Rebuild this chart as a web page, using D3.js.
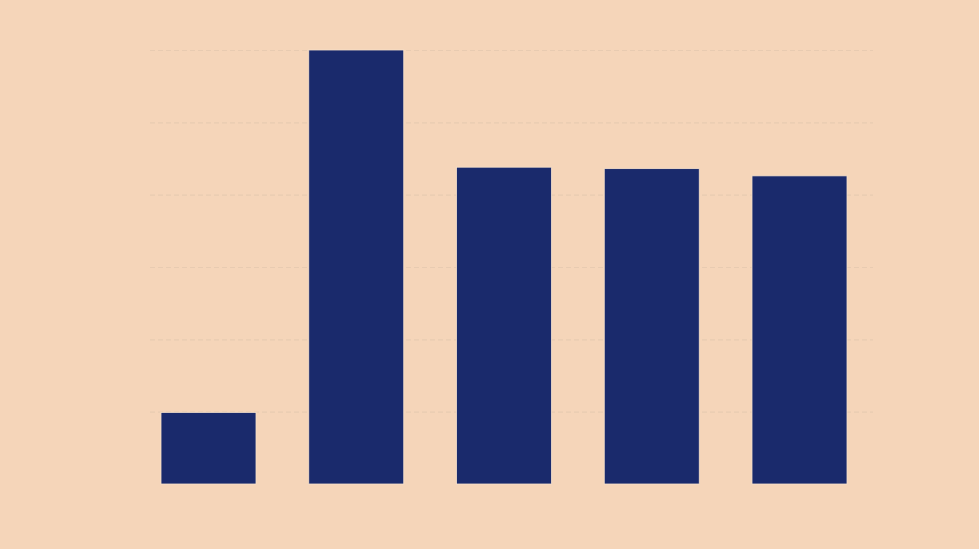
<!DOCTYPE html>
<html>
<head>
<meta charset="utf-8">
<script src="https://cdn.jsdelivr.net/npm/d3@7"></script>
<style>
html,body{margin:0;padding:0;background:#f5d5b9;}
svg{display:block;}
</style>
</head>
<body>
<svg id="chart" width="979" height="549"></svg>
<script>
const categories = ["A", "B", "C", "D", "E"];
const values = [9.9, 60, 43.8, 43.6, 42.6];
const gridTicks = [0, 10, 20, 30, 40, 50, 60];

const svg = d3.select("#chart");
svg.append("rect").attr("width", 979).attr("height", 549).attr("fill", "#f5d5b9");

const x = d3.scaleBand().domain(categories).range([161, 847]).paddingInner(0.357).paddingOuter(0);
const y = d3.scaleLinear().domain([0, 60]).range([484, 50]);

const yAxis = d3.axisLeft(y).tickValues(gridTicks.slice(1)).tickSize(-(873 - 150)).tickFormat("");
const g = svg.append("g").attr("transform", "translate(150,0)").call(yAxis);
g.select(".domain").remove();
g.selectAll(".tick line").attr("stroke", "#e8cbb1").attr("stroke-width", 1.2).attr("stroke-dasharray", "5,3");

svg.append("g").selectAll("rect").data(values).join("rect")
  .attr("x", (d, i) => x(categories[i]))
  .attr("y", d => y(d))
  .attr("width", x.bandwidth())
  .attr("height", d => y(0) - y(d))
  .attr("fill", "#1a2a6c")
  .attr("stroke", "#f7e2cc")
  .attr("stroke-width", 0.8);
</script>
</body>
</html>
